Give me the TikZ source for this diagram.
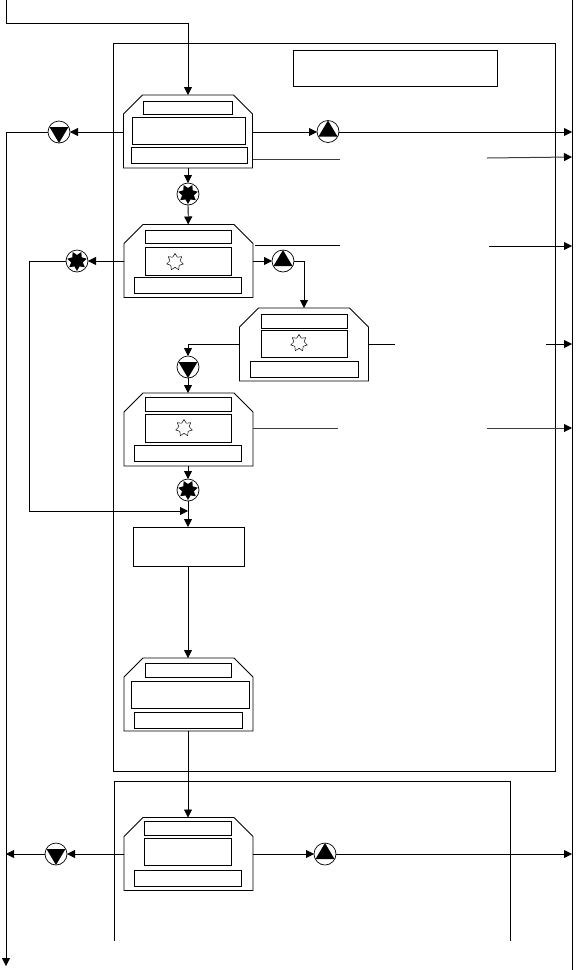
\documentclass[tikz,border=0pt]{standalone}
\usepackage{xcolor}
\usetikzlibrary{positioning,arrows.meta,shapes.geometric,calc}
\definecolor{cgrey}{HTML}{3C3C3C}
\tikzset{
  station/.style={rectangle, inner sep=0pt, outer sep=0pt, minimum width=129pt, minimum height=73pt,
    append after command={\pgfextra{\let\stnode\tikzlastnode
      \draw[line width=0.9pt] ($(\stnode.north west)+(0,19)$) -- ($(\stnode.north west)+(19,0)$)
        -- ($(\stnode.north east)+(-19,0)$) -- ($(\stnode.north east)+(0,19)$)
        -- (\stnode.south east) -- (\stnode.south west) -- cycle;}}},
  cell/.style={rectangle, draw, line width=0.9pt, inner sep=0pt, outer sep=0pt},
  frame/.style={rectangle, draw, line width=0.8pt, inner sep=0pt, outer sep=0pt},
  spark/.style={star, star points=7, star point ratio=1.6, draw, fill=white, line width=0.5pt,
    inner sep=0pt, minimum size=17pt},
  pumpup/.style={circle, draw, line width=0.7pt, inner sep=0pt, outer sep=0pt, minimum size=22pt,
    path picture={\fill ($(path picture bounding box.center)+(0,-11)$) -- ++(9.5,16) -- ++(-19,0) -- cycle;}},
  pumpdown/.style={circle, draw, line width=0.7pt, inner sep=0pt, outer sep=0pt, minimum size=22pt,
    path picture={\fill ($(path picture bounding box.center)+(0,11)$) -- ++(9.5,-16) -- ++(-19,0) -- cycle;}},
  pumpstar/.style={circle, draw, line width=0.7pt, inner sep=0pt, outer sep=0pt, minimum size=22pt,
    path picture={\begin{scope}[shift={(path picture bounding box.center)}]
      \fill plot[samples=15, domain=0:14, variable=\k]
        ({(mod(\k,2)==0 ? 10 : 6)*cos(90+\k*360/14)}, {(mod(\k,2)==0 ? 10 : 6)*sin(90+\k*360/14)});
      \end{scope}}},
  flow/.style={-{Triangle[length=8pt,width=8pt]}, line width=0.8pt},
  link/.style={line width=0.8pt},
  fade/.style={line width=1pt, draw=cgrey},
  fadeflow/.style={-{Triangle[length=8pt,width=8pt,color=black]}, line width=1pt, draw=cgrey},
}
\begin{document}
\begin{tikzpicture}[x=1pt, y=-1pt]
  \useasboundingbox (0,0) rectangle (578,970);
  % frames
  \node[frame, minimum width=442pt, minimum height=728pt] (plant) at (334,407) {};
  \node[frame, minimum width=204pt, minimum height=36pt] (note) at (395,68) {};
  \coordinate (lowerA) at (114.5,941);
  \coordinate (lowerB) at (114.5,781);
  \coordinate (lowerC) at (510.5,781);
  \coordinate (lowerD) at (510.5,941);
  \draw[link] (lowerA) -- (lowerB) -- (lowerC) -- (lowerD);

  % stations
  \node[station] (st1) at (188,131.5) {};
  \node[cell, minimum width=89pt, minimum height=13pt] (st1t) at (187.5,107.5) {};
  \node[cell, minimum width=113pt, minimum height=27pt] (st1m) at (188.5,130.5) {};
  \node[cell, minimum width=116pt, minimum height=16pt] (st1b) at (189,155) {};

  \node[station] (st2) at (188.5,261) {};
  \node[cell, minimum width=86pt, minimum height=13pt] (st2t) at (188,236.5) {};
  \node[cell, minimum width=86pt, minimum height=28pt] (st2m) at (188,261) {};
  \node[cell, minimum width=107pt, minimum height=16pt] (st2b) at (187.5,285) {};
  \node[spark] (sp2) at (175,262) {};

  \node[station] (st3) at (304,344.5) {};
  \node[cell, minimum width=86pt, minimum height=14pt] (st3t) at (304,321) {};
  \node[cell, minimum width=86pt, minimum height=27pt] (st3m) at (304,343.5) {};
  \node[cell, minimum width=108pt, minimum height=16pt] (st3b) at (304,369) {};
  \node[spark] (sp3) at (299,343) {};

  \node[station] (st4) at (188.5,429.5) {};
  \node[cell, minimum width=86pt, minimum height=14pt] (st4t) at (188,404) {};
  \node[cell, minimum width=86pt, minimum height=28pt] (st4m) at (188,428) {};
  \node[cell, minimum width=107pt, minimum height=16pt] (st4b) at (187.5,453) {};
  \node[spark] (sp4) at (184,428) {};

  \node[cell, minimum width=111pt, minimum height=39pt] (merge) at (188.5,546.5) {};

  \node[station] (st5) at (188.5,694.5) {};
  \node[cell, minimum width=86pt, minimum height=14pt] (st5t) at (188,670) {};
  \node[cell, minimum width=118pt, minimum height=27pt] (st5m) at (190,694.5) {};
  \node[cell, minimum width=108pt, minimum height=16pt] (st5b) at (188,720) {};

  \node[station] (st6) at (188.5,854) {};
  \node[cell, minimum width=87pt, minimum height=14pt] (st6t) at (187.5,828) {};
  \node[cell, minimum width=87pt, minimum height=27pt] (st6m) at (187.5,851.5) {};
  \node[cell, minimum width=107pt, minimum height=16pt] (st6b) at (187.5,878) {};

  % pumps
  \node[pumpdown] (pu1) at (59,132) {};
  \node[pumpup] (pu2) at (328,131.5) {};
  \node[pumpstar] (pu3) at (188,194) {};
  \node[pumpstar] (pu4) at (77,261) {};
  \node[pumpup] (pu5) at (283,261) {};
  \node[pumpdown] (pu6) at (188,367) {};
  \node[pumpstar] (pu7) at (188,490) {};
  \node[pumpdown] (pu8) at (56,854) {};
  \node[pumpup] (pu9) at (325,854) {};

  % bus lines
  \coordinate (busTop) at (572,0);
  \coordinate (busEnd) at (572,970);
  \coordinate (feedA) at (6,0);
  \coordinate (feedB) at (6,23);
  \coordinate (feedC) at (188,23);
  \coordinate (leftA) at (6,132);
  \coordinate (leftB) at (6,966);
  \coordinate (left6) at (6,854);
  \draw[link] (busTop) -- (busEnd);
  \draw[flow] (feedA) -- (feedB) -- (feedC) -- (st1.north -| feedC);
  \draw[flow] (leftA) -- (leftB);

  % outlets to the bus
  \coordinate (out1) at (572,132);
  \coordinate (a1) at (340,159);
  \coordinate (b1) at (487,158);
  \coordinate (c1) at (572,157);
  \coordinate (a2) at (340,245);
  \coordinate (z2) at (255,245);
  \coordinate (b2) at (489,246);
  \coordinate (c2) at (572,246);
  \coordinate (a3) at (395,344);
  \coordinate (b3) at (546,344);
  \coordinate (c3) at (572,344);
  \coordinate (a4) at (338,428);
  \coordinate (b4) at (487,428);
  \coordinate (c4) at (572,428);
  \coordinate (out6) at (572,854);

  \draw[flow] (st1.west |- pu1) -- (pu1);
  \draw[link] (pu1) -- (leftA);
  \draw[flow] (st1.east |- out1) -- (out1 -| pu2.west);
  \draw[flow] (pu2.east |- out1) -- (out1);
  \draw[fade] (st1.east |- a1) -- (a1);
  \draw[fadeflow] (b1) -- (c1);
  \draw[flow] (st1) -- (pu3);
  \draw[flow] (pu3) -- (st2);

  \draw[link] (z2) -- (a2);
  \draw[flow] (b2) -- (c2);
  \draw[flow] (st2) -- (pu4);
  \draw[flow] (st2) -- (pu5);
  \coordinate (ret1) at (29,261);
  \coordinate (ret2) at (29,511);
  \coordinate (ret3) at (188,511);
  \draw[link] (pu4) -- (ret1) -- (ret2);
  \draw[flow] (ret2) -- (ret3);
  \coordinate (up3) at (304,261);
  \draw[flow] (pu5) -- (up3) -- (st3.north -| up3);

  \coordinate (dn3) at (188,344);
  \draw[link] (st3.west |- dn3) -- (dn3);
  \draw[flow] (dn3) -- (pu6);
  \draw[flow] (pu6) -- (st4.north -| pu6);
  \draw[link] (st3.east |- a3) -- (a3);
  \draw[flow] (b3) -- (c3);

  \draw[fade] (st4.east |- a4) -- (a4);
  \draw[fadeflow] (b4) -- (c4);
  \draw[flow] (st4.south -| pu7) -- (pu7);
  \draw[flow] (pu7) -- (merge.north -| pu7);
  \draw[flow] (merge.south -| pu7) -- (st5.north -| pu7);
  \draw[flow] (st5.south -| pu7) -- (st6.north -| pu7);

  \draw[flow] (st6.west |- pu8) -- (pu8);
  \draw[flow] (pu8) -- (left6);
  \draw[flow] (st6.east |- pu9) -- (pu9);
  \draw[flow] (pu9) -- (out6);
\end{tikzpicture}
\end{document}
